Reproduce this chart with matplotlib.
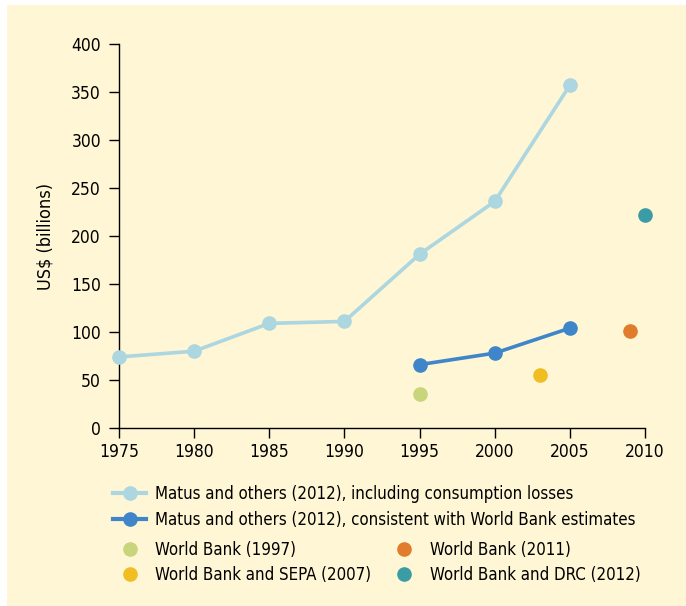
import matplotlib.pyplot as plt
from matplotlib.patches import Rectangle
from matplotlib.lines import Line2D

# cost estimates, US$ billions
years_total = [1975, 1980, 1985, 1990, 1995, 2000, 2005]
cost_total = [74, 80, 109, 111, 181, 236, 357]

years_wb = [1995, 2000, 2005]
cost_wb = [66, 78, 104]

point_labels = ["World Bank (1997)", "World Bank and SEPA (2007)",
                "World Bank (2011)", "World Bank and DRC (2012)"]
point_years = [1995, 2003, 2009, 2010]
point_costs = [35, 55, 101, 222]
point_colors = ["#c8d57a", "#f0be22", "#e07c2c", "#3b9ca6"]

xticks = [1975, 1980, 1985, 1990, 1995, 2000, 2005, 2010]
yticks = [0, 50, 100, 150, 200, 250, 300, 350, 400]

light = "#acd6e0"
dark = "#3e86c9"
bg = "#fef6d4"

plt.rcParams['font.family'] = ['DejaVu Sans']
plt.rcParams['font.stretch'] = 'condensed'

fig = plt.figure(figsize=(6.86, 6.06), dpi=100)
fig.patch.set_facecolor("white")
fig.patches.append(Rectangle((7 / 686, 0), 1, 1 - 5 / 606, transform=fig.transFigure,
                             facecolor=bg, edgecolor="none", zorder=-1))

ax = fig.add_axes([119 / 686, 1 - 428 / 606, 526 / 686, 384 / 606])
ax.set_facecolor("none")

ax.plot(years_total, cost_total, "-o", color=light, lw=2.6, ms=9.5, clip_on=False, zorder=3)
ax.plot(years_wb, cost_wb, "-o", color=dark, lw=2.6, ms=9.5, clip_on=False, zorder=3)
for x, y, c in zip(point_years, point_costs, point_colors):
    ax.plot(x, y, "o", color=c, ms=9.5, clip_on=False, zorder=3)

ax.set_xlim(1975, 2010)
ax.set_ylim(0, 400)
ax.set_xticks(xticks)
ax.set_yticks(yticks)
ax.tick_params(labelsize=12.5, length=7, width=1, color="black")
ax.tick_params(axis="y", pad=6)
ax.tick_params(axis="x", pad=4)
for s in ["top", "right"]:
    ax.spines[s].set_visible(False)
for s in ["left", "bottom"]:
    ax.spines[s].set_linewidth(1)
ax.set_ylabel("US$ (billions)", fontsize=13, labelpad=12)

# legend: two line series, then the single estimates in two columns
h1 = [Line2D([], [], color=light, lw=3, marker="o", ms=9.5),
      Line2D([], [], color=dark, lw=3, marker="o", ms=9.5)]
leg1 = fig.legend(h1, ["Matus and others (2012), including consumption losses",
                       "Matus and others (2012), consistent with World Bank estimates"],
                  loc="upper left", bbox_to_anchor=(106 / 686, 1 - 478 / 606),
                  frameon=False, fontsize=12.1, handlelength=2.0, handletextpad=0.5,
                  labelspacing=0.5, borderaxespad=0)
h2 = [Line2D([], [], color=c, lw=0, marker="o", ms=9.5) for c in point_colors]
leg2 = fig.legend(h2, point_labels, ncol=2,
                  loc="upper left", bbox_to_anchor=(106 / 686, 1 - 534 / 606),
                  frameon=False, fontsize=12.1, handlelength=2.0, handletextpad=0.5,
                  labelspacing=0.45, columnspacing=1.0, borderaxespad=0)

fig.savefig("out.png", dpi=100, facecolor=fig.get_facecolor())
